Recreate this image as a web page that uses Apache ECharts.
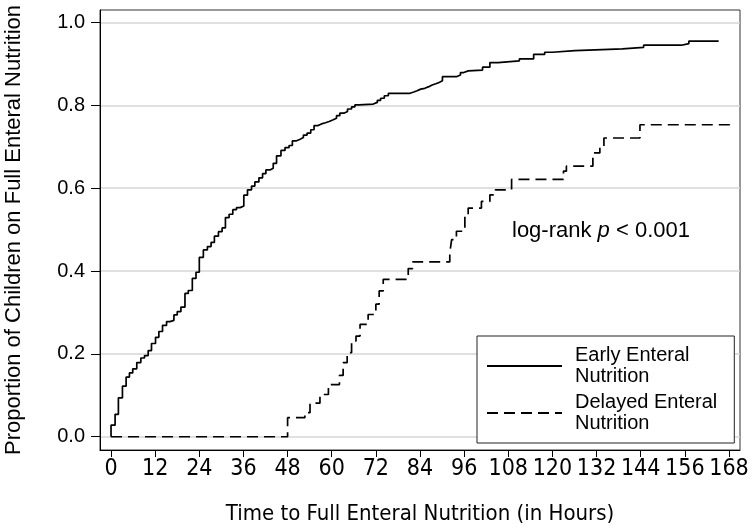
<!DOCTYPE html>
<html>
<head>
<meta charset="utf-8">
<script src="https://cdn.jsdelivr.net/npm/echarts@6/dist/echarts.min.js"></script>
<style>html,body{margin:0;padding:0;background:#fff;}#c{width:750px;height:532px;}</style>
</head>
<body>
<div id="c"></div>
<script>
var xTicks = [0, 12, 24, 36, 48, 60, 72, 84, 96, 108, 120, 132, 144, 156, 168];
var yTicks = [0, 0.2, 0.4, 0.6, 0.8, 1.0];

var earlyName = 'Early Enteral\nNutrition';
var delayedName = 'Delayed Enteral\nNutrition';

var earlyTimes = [0, 0, 1.1, 2, 3.1, 4.1, 5, 5.9, 7, 8.1, 9.1, 10.1, 11, 12.1, 13, 14, 15.1, 16, 17.1, 18, 19, 20.1, 21, 22.1, 23.1, 24, 25.1, 26.2, 27.2, 28.1, 29.2, 30.2, 31.1, 32.1, 33.1, 34.1, 35.1, 36.1, 37.1, 38.2, 39.1, 40.2, 41.2, 42.1, 43.2, 44.1, 45, 46.2, 47.3, 48.4, 49.3, 50.3, 51.4, 52.3, 53.3, 54.3, 55.2, 56.3, 57.2, 58.3, 59.3, 60.4, 61.3, 62.2, 63.3, 64.3, 65.4, 66.3, 67.4, 71.3, 72.4, 73.3, 74.3, 75.4, 81.3, 82.3, 83.2, 84.2, 85.3, 86.4, 87.3, 88.3, 89.2, 90.1, 93.9, 95, 95.9, 97.1, 101, 103, 105.2, 111, 114.9, 117.9, 120, 126.1, 139, 144.8, 155.1, 157.1, 165.2];
var earlyProb = [0, 0.028, 0.054, 0.094, 0.122, 0.144, 0.154, 0.164, 0.179, 0.19, 0.196, 0.208, 0.225, 0.24, 0.254, 0.269, 0.278, 0.281, 0.294, 0.302, 0.313, 0.346, 0.353, 0.382, 0.397, 0.433, 0.451, 0.459, 0.469, 0.484, 0.495, 0.504, 0.529, 0.537, 0.548, 0.553, 0.557, 0.583, 0.596, 0.605, 0.615, 0.625, 0.635, 0.644, 0.648, 0.66, 0.678, 0.691, 0.698, 0.703, 0.714, 0.718, 0.722, 0.728, 0.733, 0.741, 0.751, 0.755, 0.758, 0.761, 0.765, 0.769, 0.775, 0.781, 0.785, 0.791, 0.796, 0.801, 0.803, 0.807, 0.812, 0.817, 0.823, 0.829, 0.832, 0.835, 0.839, 0.841, 0.845, 0.849, 0.852, 0.855, 0.859, 0.869, 0.873, 0.879, 0.883, 0.885, 0.892, 0.903, 0.907, 0.912, 0.923, 0.928, 0.932, 0.936, 0.94, 0.945, 0.949, 0.955, 0.955];

var delayedTimes = [0, 48, 52.7, 54.1, 56.8, 59.1, 62.1, 63.1, 64.2, 65.4, 66.6, 67.7, 69.9, 72, 72.9, 74, 80.8, 82, 92.1, 92.6, 93.9, 96.2, 97.1, 100.7, 103, 104.5, 108.9, 123, 123.8, 131, 132.9, 134, 143.8, 168.2];
var delayedProb = [0, 0.046, 0.058, 0.081, 0.102, 0.126, 0.148, 0.179, 0.203, 0.231, 0.243, 0.271, 0.295, 0.32, 0.352, 0.38, 0.406, 0.422, 0.444, 0.476, 0.496, 0.532, 0.552, 0.568, 0.584, 0.596, 0.621, 0.641, 0.653, 0.685, 0.70, 0.721, 0.753, 0.765];

function pairs(t, v) { return t.map(function (x, i) { return [x, v[i]]; }); }

var narrow = '"Liberation Sans Narrow", "DejaVu Sans Condensed", "Liberation Sans", Arial, sans-serif';
var sans = '"Liberation Sans", Arial, Helvetica, sans-serif';

var chart = echarts.init(document.getElementById('c'), null, {renderer: 'canvas'});
chart.setOption({
  animation: false,
  backgroundColor: '#ffffff',
  grid: {left: 100, top: 10, width: 640, height: 440, show: true, borderColor: '#333', borderWidth: 1,
         containLabel: false, outerBoundsMode: 'none'},
  xAxis: {
    type: 'value', min: -3, max: 171,
    name: 'Time to Full Enteral Nutrition (in Hours)',
    nameLocation: 'middle', nameGap: 53,
    nameTextStyle: {fontFamily: narrow, fontSize: 22, color: '#000'},
    axisLine: {show: true, onZero: false, lineStyle: {color: '#000', width: 1}},
    axisTick: {show: true, length: 7, customValues: xTicks, lineStyle: {color: '#000'}},
    axisLabel: {customValues: xTicks, margin: 8, fontFamily: narrow, fontSize: 23, color: '#000'},
    splitLine: {show: false}
  },
  yAxis: {
    type: 'value', min: -0.032, max: 1.03,
    name: 'Proportion of Children on Full Enteral Nutrition',
    nameLocation: 'middle', nameGap: 75,
    nameTextStyle: {fontFamily: sans, fontSize: 22, color: '#000'},
    axisLine: {show: true, onZero: false, lineStyle: {color: '#000', width: 1}},
    axisTick: {show: true, length: 9, customValues: yTicks, lineStyle: {color: '#000'}},
    axisLabel: {customValues: yTicks, margin: 15, fontFamily: sans, fontSize: 20, color: '#000',
      formatter: function (v) { return v.toFixed(1); }},
    splitLine: {show: true, lineStyle: {color: '#d6d6d6', width: 1.5}}
  },
  legend: {
    show: true,
    orient: 'vertical', left: 477, top: 336,
    padding: [9, 17, 9, 9], itemGap: 5, itemWidth: 75, itemHeight: 14,
    borderColor: '#222', borderWidth: 1, backgroundColor: '#fff',
    itemStyle: {color: 'rgba(0,0,0,0)', borderWidth: 0, opacity: 0},
    textStyle: {fontFamily: sans, fontSize: 20, lineHeight: 21, color: '#000', padding: [0, 0, 0, 8]},
    data: [earlyName, delayedName]
  },
  graphic: [{
    type: 'text', left: 512, top: 220, z: 10,
    style: {
      text: '{n|log-rank }{i|p}{n| < 0.001}',
      rich: {
        n: {fontFamily: sans, fontSize: 22, fill: '#000'},
        i: {fontFamily: sans, fontSize: 22, fontStyle: 'italic', fill: '#000'}
      }
    }
  }],
  series: [
    {name: earlyName, type: 'line', step: 'end', symbol: 'none', showSymbol: false,
     lineStyle: {color: '#000', width: 1.7}, itemStyle: {color: '#000'},
     data: pairs(earlyTimes, earlyProb)},
    {name: delayedName, type: 'line', step: 'end', symbol: 'none', showSymbol: false,
     lineStyle: {color: '#000', width: 1.7, type: [11, 6]}, itemStyle: {color: '#000'},
     data: pairs(delayedTimes, delayedProb)}
  ]
});
</script>
</body>
</html>
